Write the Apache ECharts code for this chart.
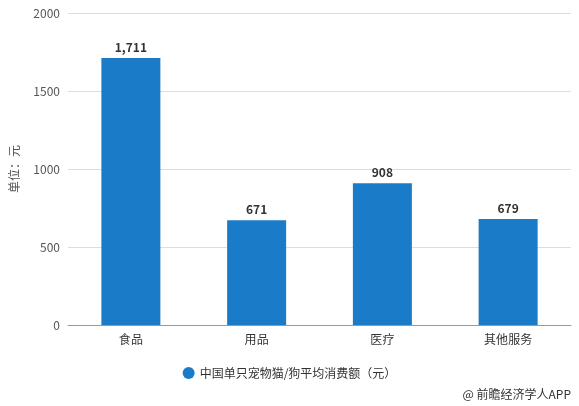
<!DOCTYPE html>
<html>
<head>
<meta charset="utf-8">
<script src="https://cdn.jsdelivr.net/npm/echarts@6/dist/echarts.min.js"></script>
<style>html,body{margin:0;padding:0;background:#fff}#c{width:579px;height:406px}</style>
</head>
<body>
<div id="c"></div>
<script>
var categories = ['食品', '用品', '医疗', '其他服务'];
var values = [1711, 671, 908, 679];
var seriesName = '中国单只宠物猫/狗平均消费额（元）';

var chart = echarts.init(document.getElementById('c'));
chart.setOption({
    animation: false,
    textStyle: {fontFamily: 'Noto Sans CJK SC'},
    grid: {left: 68, right: 8, top: 13, bottom: 81},
    legend: {
        bottom: 22,
        left: 'center',
        icon: 'circle',
        itemWidth: 12,
        itemHeight: 12,
        textStyle: {fontSize: 12, color: '#333'}
    },
    graphic: [{
        type: 'text',
        right: 8,
        bottom: 6,
        style: {text: '@ 前瞻经济学人APP', fontSize: 12, fill: '#333', fontFamily: 'Noto Sans CJK SC'}
    }],
    xAxis: {
        type: 'category',
        data: categories,
        axisTick: {show: false},
        axisLine: {lineStyle: {color: '#999'}},
        axisLabel: {color: '#333', fontSize: 12}
    },
    yAxis: {
        type: 'value',
        min: 0, max: 2000, interval: 500,
        name: '单位：元',
        nameLocation: 'middle',
        nameGap: 48,
        nameTextStyle: {color: '#555', fontSize: 12},
        axisLabel: {color: '#555', fontSize: 12, formatter: function (v) { return String(v); }},
        splitLine: {lineStyle: {color: '#ddd'}}
    },
    series: [{
        type: 'bar',
        name: seriesName,
        data: values,
        barWidth: 59,
        itemStyle: {color: '#1a7bc9'},
        label: {
            show: true,
            position: 'top',
            fontWeight: 'bold',
            color: '#333',
            fontSize: 12,
            formatter: function (p) { return p.value.toLocaleString('en-US'); }
        }
    }]
});
</script>
</body>
</html>
